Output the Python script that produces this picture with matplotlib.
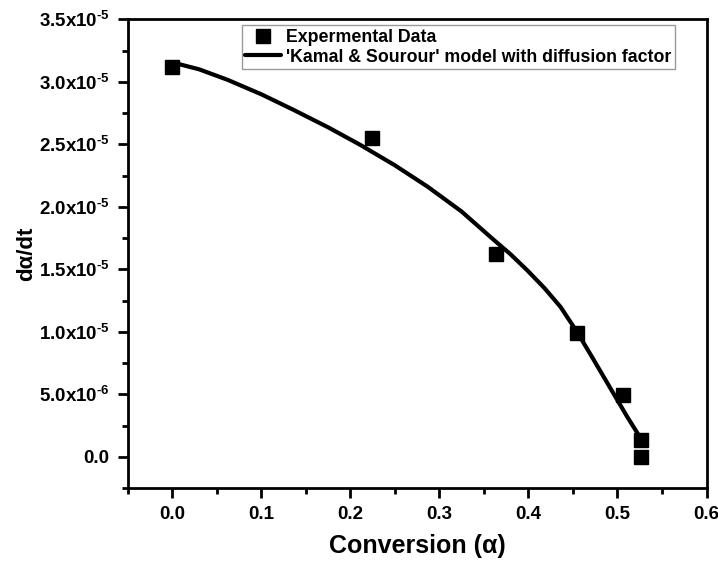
import matplotlib
matplotlib.use("Agg")
import matplotlib.pyplot as plt
import matplotlib.ticker as mt
import numpy as np

# experimental points
conv_exp = [0.0, 0.224, 0.364, 0.455, 0.506, 0.526, 0.526]
rate_exp = [3.12e-5, 2.55e-5, 1.62e-5, 9.9e-6, 4.96e-6, 1.36e-6, 0.0]

# model curve
conv_model = [0.0, 0.03, 0.062, 0.10, 0.136, 0.175, 0.211, 0.25, 0.287, 0.325,
              0.361, 0.38, 0.399, 0.418, 0.436, 0.455, 0.473, 0.492, 0.511, 0.526]
rate_model = [3.155e-5, 3.10e-5, 3.016e-5, 2.90e-5, 2.776e-5, 2.636e-5, 2.496e-5,
              2.332e-5, 2.16e-5, 1.962e-5, 1.736e-5, 1.62e-5, 1.49e-5, 1.35e-5,
              1.2e-5, 9.95e-6, 7.8e-6, 5.5e-6, 3.2e-6, 1.5e-6]

plt.rcParams['font.family'] = ['Liberation Sans', 'DejaVu Sans']
plt.rcParams['font.weight'] = 'bold'
plt.rcParams['mathtext.fontset'] = 'custom'
plt.rcParams['mathtext.rm'] = 'Liberation Sans:bold'
plt.rcParams['mathtext.it'] = 'Liberation Sans:bold'
plt.rcParams['mathtext.bf'] = 'Liberation Sans:bold'

fig = plt.figure(figsize=(7.18, 5.67), dpi=100)
ax = fig.add_axes([0.178, 0.139, 0.806, 0.827])

ax.plot(conv_model, rate_model, color='black', lw=3, solid_capstyle='round',
        solid_joinstyle='round', label="'Kamal & Sourour' model with diffusion factor",
        zorder=2)
ax.plot(conv_exp, rate_exp, 's', color='black', ms=9.5, ls='none',
        label='Expermental Data', zorder=3)

ax.set_xlim(-0.05, 0.6)
ax.set_ylim(-2.5e-6, 3.5e-5)
ax.xaxis.set_major_locator(mt.MultipleLocator(0.1))
ax.xaxis.set_minor_locator(mt.MultipleLocator(0.05))
ax.yaxis.set_major_locator(mt.MultipleLocator(5e-6))
ax.yaxis.set_minor_locator(mt.MultipleLocator(2.5e-6))

def yfmt(v, pos):
    if abs(v) < 1e-12:
        return '0.0'
    e = int(np.floor(np.log10(abs(v))))
    m = v / 10**e
    return r'%.1fx10$^{\text{%d}}$' % (m, e)

ax.yaxis.set_major_formatter(mt.FuncFormatter(yfmt))
ax.xaxis.set_major_formatter(mt.FormatStrFormatter('%.1f'))

for s in ax.spines.values():
    s.set_linewidth(2)
ax.tick_params(which='major', direction='out', length=7, width=2, labelsize=13.5, pad=6)
ax.tick_params(which='minor', direction='out', length=4, width=2)
ax.tick_params(top=False, right=False, which='both')

ax.set_xlabel('Conversion (α)', fontsize=18, fontweight='bold', labelpad=8)
ax.set_ylabel('dα/dt', fontsize=16, fontweight='bold', labelpad=1)

h, l = ax.get_legend_handles_labels()
leg = ax.legend(h[::-1], l[::-1], loc='upper left', bbox_to_anchor=(0.197, 0.987),
                fontsize=12.8, frameon=True, fancybox=False, edgecolor='gray',
                borderpad=0.2, labelspacing=0.15, handlelength=2.0, handletextpad=0.3,
                borderaxespad=0)
leg.get_frame().set_linewidth(1)
for t in leg.get_texts():
    t.set_fontweight('bold')

fig.savefig('out.png', dpi=100)
